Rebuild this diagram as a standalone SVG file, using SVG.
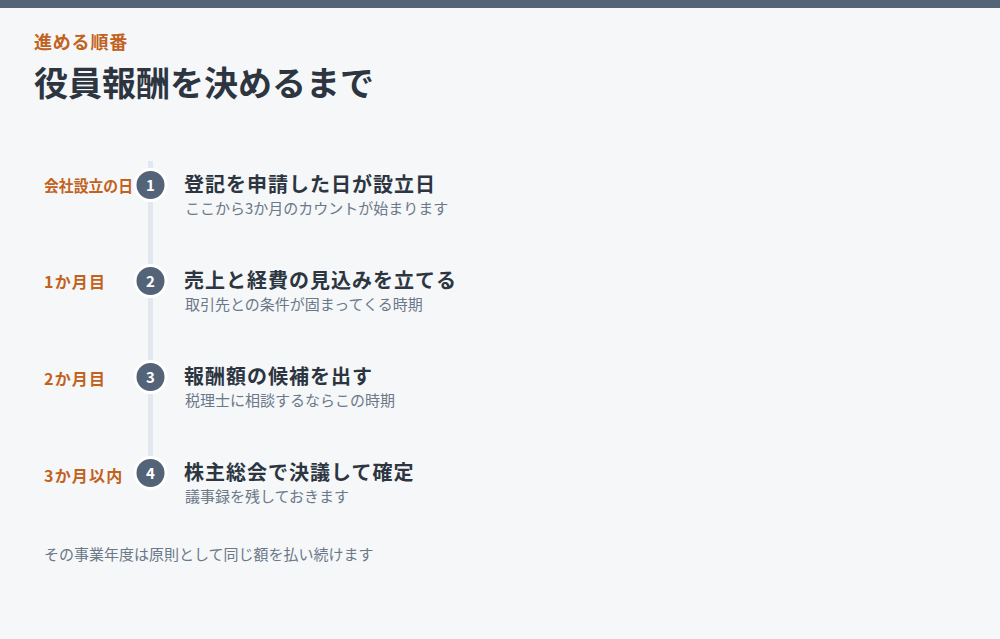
<svg xmlns="http://www.w3.org/2000/svg" width="1000" height="639" viewBox="0 0 1000 639">
<style>
text{font-family:"Noto Sans CJK JP","Noto Sans",sans-serif}
.eyebrow{font-size:18px;font-weight:700;fill:#c2621c;letter-spacing:0.8px}
.h1{font-size:34px;font-weight:700;fill:#2c3540}
.lbl{font-size:16px;font-weight:700;fill:#c2621c;letter-spacing:1.2px}
.num{font-size:15px;font-weight:700;fill:#ffffff;text-anchor:middle}
.ttl{font-size:20px;font-weight:700;fill:#2c3540;letter-spacing:1px}
.sub{font-size:15px;fill:#6b7888}
.dot{fill:#536479;stroke:#ffffff;stroke-width:3}
</style>
<rect x="0" y="0" width="1000" height="639" fill="#f5f7f9"/>
<rect x="0" y="0" width="1000" height="8" fill="#536479"/>
<text class="eyebrow" x="34" y="49">進める順番</text>
<text class="h1" x="34" y="96">役員報酬を決めるまで</text>
<g id="connectors">
<rect x="148" y="161" width="5" height="312" fill="#e2e8ee"/>
</g>
<g id="step1">
<text class="lbl" x="44" y="191.5" style="letter-spacing:0" textLength="89" lengthAdjust="spacingAndGlyphs">会社設立の日</text>
<circle class="dot" cx="150.5" cy="185" r="15.5"/>
<text class="num" x="150.5" y="190.5">1</text>
<text class="ttl" x="184" y="192">登記を申請した日が設立日</text>
<text class="sub" x="185" y="214">ここから3か月のカウントが始まります</text>
</g>
<g id="step2">
<text class="lbl" x="44" y="288">1か月目</text>
<circle class="dot" cx="150.5" cy="281" r="15.5"/>
<text class="num" x="150.5" y="286.5">2</text>
<text class="ttl" x="184" y="288">売上と経費の見込みを立てる</text>
<text class="sub" x="185" y="310">取引先との条件が固まってくる時期</text>
</g>
<g id="step3">
<text class="lbl" x="44" y="385">2か月目</text>
<circle class="dot" cx="150.5" cy="377" r="15.5"/>
<text class="num" x="150.5" y="382.5">3</text>
<text class="ttl" x="184" y="384">報酬額の候補を出す</text>
<text class="sub" x="185" y="406">税理士に相談するならこの時期</text>
</g>
<g id="step4">
<text class="lbl" x="44" y="482">3か月以内</text>
<circle class="dot" cx="150.5" cy="473" r="15.5"/>
<text class="num" x="150.5" y="478.5">4</text>
<text class="ttl" x="184" y="480">株主総会で決議して確定</text>
<text class="sub" x="185" y="502">議事録を残しておきます</text>
</g>
<text class="sub" x="44" y="560">その事業年度は原則として同じ額を払い続けます</text>
</svg>
